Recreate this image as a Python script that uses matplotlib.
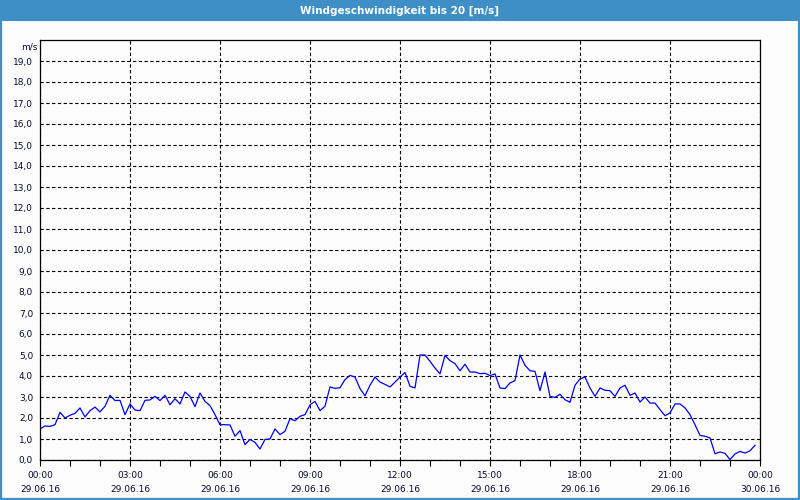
import numpy as np
import pandas as pd
import matplotlib
matplotlib.use("Agg")
import matplotlib.pyplot as plt
import matplotlib.dates as mdates
from matplotlib.patches import Rectangle

title = "Windgeschwindigkeit bis 20 [m/s]"
unit_label = "m/s"
start_time = "2016-06-29 00:00"
end_time = "2016-06-30 00:00"
sample_freq = "10min"

wind_speed = [
    1.48, 1.62, 1.60, 1.68, 2.27, 2.00, 2.13, 2.22, 2.48, 2.05, 2.35, 2.52, 2.29, 2.56, 3.08,
    2.83, 2.84, 2.16, 2.67, 2.38, 2.35, 2.84, 2.86, 3.03, 2.83, 3.08, 2.63, 2.92, 2.67,
    3.24, 3.03, 2.54, 3.19, 2.79, 2.59, 2.16, 1.68, 1.68, 1.67, 1.13, 1.40, 0.73, 0.98, 0.84,
    0.52, 0.98, 1.00, 1.48, 1.21, 1.37, 1.97, 1.87, 2.08, 2.16, 2.63, 2.79, 2.35, 2.56,
    3.48, 3.41, 3.44, 3.83, 4.03, 3.95, 3.40, 3.06, 3.56, 3.95, 3.71, 3.60, 3.48, 3.71, 3.95,
    4.17, 3.51, 3.43, 5.00, 5.00, 4.70, 4.38, 4.10, 4.98, 4.73, 4.59, 4.25, 4.56, 4.19,
    4.19, 4.11, 4.13, 4.02, 4.10, 3.43, 3.40, 3.67, 3.78, 5.00, 4.51, 4.25, 4.22, 3.30, 4.19,
    3.03, 2.98, 3.13, 2.87, 2.75, 3.56, 3.86, 3.95, 3.43, 3.03, 3.43, 3.32, 3.30, 3.03,
    3.43, 3.56, 3.08, 3.19, 2.76, 3.00, 2.71, 2.71, 2.40, 2.11, 2.24, 2.67, 2.67, 2.48, 2.16,
    1.68, 1.17, 1.13, 1.05, 0.30, 0.38, 0.32, 0.02, 0.29, 0.41, 0.33, 0.44, 0.70,
]
y_ticks = list(range(0, 20))
y_tick_labels = [f"{v},0" for v in y_ticks]

times = pd.date_range(start_time, periods=len(wind_speed), freq=sample_freq)
t0 = pd.Timestamp(start_time)
t1 = pd.Timestamp(end_time)

BG = "#fbfcfb"
BAR = "#3d8fc6"
TXT = "#0a0a30"

fig = plt.figure(figsize=(8, 5), dpi=100, facecolor=BG)

# title bar
fig.patches.append(Rectangle((0, 1 - 21 / 500), 1, 21 / 500, transform=fig.transFigure,
                             facecolor=BAR, edgecolor="none", zorder=0))
fig.patches.append(Rectangle((0.6 / 800, 0.6 / 500), 1 - 1.8 / 800, 1 - 1.2 / 500,
                             transform=fig.transFigure, facecolor="none",
                             edgecolor=BAR, linewidth=1.6, zorder=1))
fig.text(0.5, 1 - 10.5 / 500, title, color="white", ha="center", va="center",
         fontsize=7.5, fontweight="bold", family="DejaVu Sans")

ax = fig.add_axes([40 / 800, 40 / 500, 720 / 800, 420 / 500])
ax.set_facecolor(BG)
ax.plot(times, wind_speed, color="#0000ff", linewidth=0.9)

ax.set_xlim(t0, t1)
ax.set_ylim(0, 20)

ax.xaxis.set_major_locator(mdates.HourLocator(byhour=range(0, 24, 3)))
ax.xaxis.set_minor_locator(mdates.HourLocator())
ax.xaxis.set_major_formatter(mdates.DateFormatter("%H:%M\n%d.%m.%y"))
ax.set_yticks(y_ticks)
ax.set_yticklabels(y_tick_labels)

ax.tick_params(axis="x", which="both", direction="out", length=4, width=0.8,
               color="black", labelsize=6.5, labelcolor=TXT, pad=4)
ax.tick_params(axis="y", which="both", length=0, labelsize=6.5, labelcolor=TXT, pad=5)
for lab in ax.get_xticklabels():
    lab.set_linespacing(1.75)

ax.grid(True, which="major", color="black", linestyle=(0, (3, 2.2)), linewidth=0.8)
for s in ax.spines.values():
    s.set_color("black")
    s.set_linewidth(0.9)

ax.text(-0.004, 0.995, unit_label, transform=ax.transAxes, ha="right", va="top",
        fontsize=6.5, color=TXT)

fig.savefig("out.png", dpi=100, facecolor=BG)
